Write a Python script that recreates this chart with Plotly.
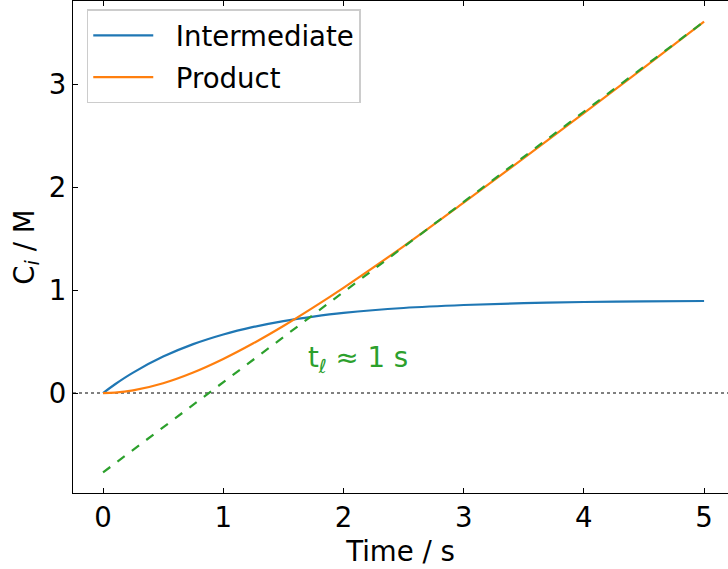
import plotly.graph_objects as go

# values
time_s = [0, 0.1, 0.25, 0.5, 0.75, 1.0, 1.25, 1.5, 1.75, 2.0, 2.5, 3.0, 3.5, 4.0, 4.5, 5.0]
intermediate = [0, 0.086, 0.199, 0.354, 0.475, 0.569, 0.642, 0.699, 0.743, 0.778, 0.826, 0.855, 0.873, 0.884, 0.890, 0.894]
product = [0, 0.004, 0.026, 0.096, 0.200, 0.331, 0.483, 0.651, 0.832, 1.022, 1.424, 1.848, 2.280, 2.718, 3.160, 3.606]
asym_t = [0, 5]
asym_c = [-0.77, 3.606]
x_ticks = [0, 1, 2, 3, 4, 5]
y_ticks = [0, 1, 2, 3]

FS = 27.6
FONT = "DejaVu Sans"
NB = "\u00a0\u00a0"

fig = go.Figure()
fig.add_trace(go.Scatter(x=time_s, y=intermediate, mode="lines", name=NB + "Intermediate",
                         legendgroup="a",
                         line=dict(color="#1f77b4", width=2.2, shape="spline")))
fig.add_trace(go.Scatter(x=time_s, y=product, mode="lines", name=NB + "Product",
                         legendgroup="b",
                         line=dict(color="#ff7f0e", width=2.2, shape="spline")))
fig.add_trace(go.Scatter(x=asym_t, y=asym_c, mode="lines", showlegend=False,
                         line=dict(color="#2ca02c", width=2.2, dash="dash")))

fig.add_shape(type="line", xref="paper", yref="y", x0=0, x1=1, y0=0, y1=0,
              line=dict(color="gray", width=2, dash="dot"), layer="below")

fig.add_annotation(x=1.69, y=0.33, xanchor="left", yanchor="middle",
                   text="t<sub><i>ℓ</i></sub> ≈ 1 s", showarrow=False,
                   font=dict(color="#2ca02c", size=27.6, family=FONT))

fig.update_layout(
    width=728, height=569,
    margin=dict(l=73, r=0, t=1, b=76),
    plot_bgcolor="white", paper_bgcolor="white",
    font=dict(family=FONT, size=FS, color="black"),
    showlegend=True,
    legend=dict(x=0.021, y=0.983, xanchor="left", yanchor="top",
                bgcolor="rgba(255,255,255,0.8)", bordercolor="#cccccc", borderwidth=1.5,
                font=dict(size=FS, family=FONT), itemwidth=60,
                traceorder="grouped", tracegroupgap=3),
)
fig.update_xaxes(range=[-0.25, 5.199], tickvals=x_ticks, ticks="inside", ticklen=5,
                 tickcolor="black", showline=True, linecolor="black", linewidth=1.2,
                 mirror="ticks", showgrid=False, zeroline=False,
                 tickfont=dict(size=FS, family=FONT),
                 title=dict(text="Time / s", standoff=8, font=dict(size=FS, family=FONT)))
fig.update_yaxes(range=[-0.97, 3.806], tickvals=y_ticks, ticks="inside", ticklen=5,
                 tickcolor="black", showline=True, linecolor="black", linewidth=1.2,
                 mirror=False, showgrid=False, zeroline=False,
                 tickfont=dict(size=FS, family=FONT),
                 title=dict(text="C<sub><i>i</i></sub> / M", standoff=6, font=dict(size=FS, family=FONT)))

fig.write_html("out.html")
